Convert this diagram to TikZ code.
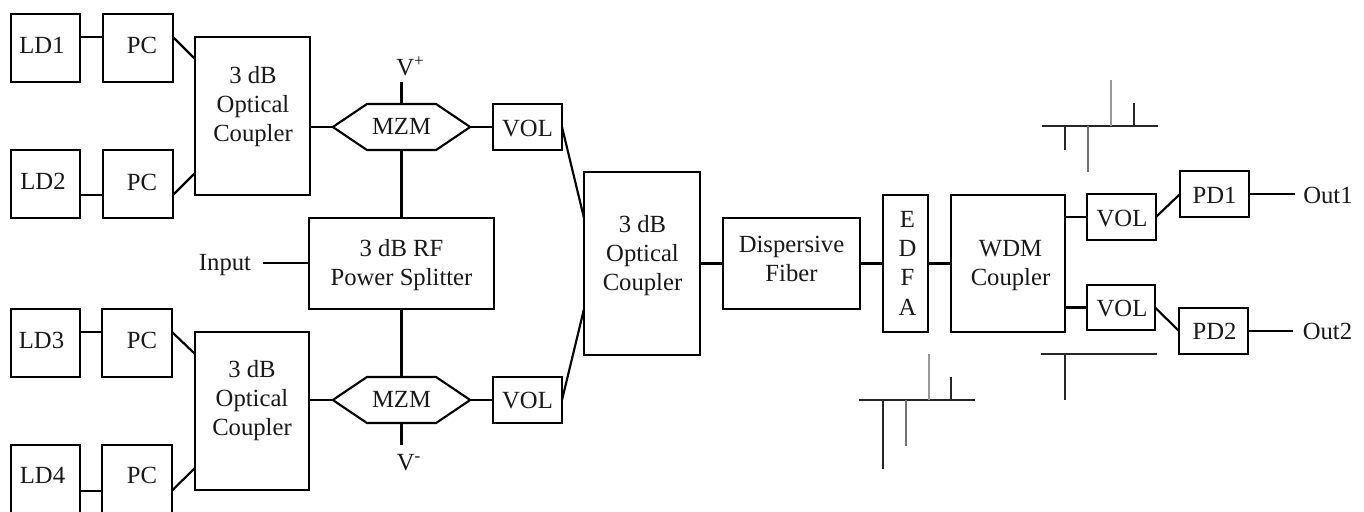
\documentclass[tikz,border=0pt]{standalone}
\usepackage{fontspec}
\setmainfont{Liberation Serif}
\usetikzlibrary{calc,shapes.symbols}
\newdimen\pxu \pxu=0.75pt
% text set with its baseline dy px below and its centre dx px right of the node centre
\newcommand{\tx}[3]{\raisebox{-#2\pxu}[0pt][0pt]{\makebox[0pt]{\kern#1\pxu\kern#1\pxu #3}}}
\newcommand{\stack}[1]{\renewcommand{\arraystretch}{1}\begin{tabular}[t]{@{}c@{}}#1\end{tabular}}
\tikzset{
  every node/.style={font=\fontsize{18.5}{22}\selectfont,text=black!90},
  pbox/.style={draw=black,line width=1.6pt,rectangle,outer sep=0pt,inner sep=0pt,fill=white},
  hexa/.style={draw=black,line width=1.6pt,signal,signal to=east and west,signal pointer angle=68,outer sep=0pt,inner sep=0pt,minimum width=103pt,minimum height=34.5pt,fill=white},
  link/.style={draw=black,line width=1.6pt},
  plain/.style={inner sep=0pt,outer sep=0pt},
  axis/.style={draw=black!85,line width=1.2pt},
  tone1/.style={draw=black!85,line width=1.2pt},
  tone2/.style={draw=black!55,line width=1.2pt},
  tone3/.style={draw=black!40,line width=1.2pt}
}
\newcommand{\pxbox}[6]{\node[pbox,minimum width={(#4-#2)*0.75pt},minimum height={(#5-#3)*0.75pt}] (#1) at ({(#2+#4)/2},{(#3+#5)/2}) {#6};}
\begin{document}
\begin{tikzpicture}[x=0.75pt,y=-0.75pt]
\useasboundingbox (0,0) rectangle (1364,511);
% sources
\pxbox{ld1}{11}{14}{80}{82}{\tx{-3.5}{5}{LD1}}
\pxbox{pc1}{103}{14}{173}{82}{\tx{4}{5}{PC}}
\pxbox{ld2}{11}{150}{80}{218}{\tx{-2.5}{5}{LD2}}
\pxbox{pc2}{103}{150}{173}{218}{\tx{4}{6}{PC}}
\pxbox{ld3}{11}{309}{80}{377}{\tx{-4}{5}{LD3}}
\pxbox{pc3}{102}{309}{172}{377}{\tx{5}{5}{PC}}
\pxbox{ld4}{11}{445}{80}{514}{\tx{-3}{3.5}{LD4}}
\pxbox{pc4}{102}{445}{172}{514}{\tx{5}{4}{PC}}
\pxbox{oc1}{195}{37}{310}{195}{\tx{0.5}{-33}{\stack{3 dB\\Optical\\Coupler}}}
\pxbox{oc2}{195}{332}{309}{490}{\tx{0}{-34}{\stack{3 dB\\Optical\\Coupler}}}
% modulators
\node[hexa] (mzm1) at (401.5,127) {\tx{0}{7}{MZM}};
\node[hexa] (mzm2) at (401.5,400) {\tx{0}{7}{MZM}};
\pxbox{vol1}{493}{104}{562}{150}{\tx{0}{9}{VOL}}
\pxbox{vol2}{493}{377}{562}{423}{\tx{0}{8}{VOL}}
\pxbox{split}{309}{218}{494}{309}{\tx{0}{-7.5}{\stack{3 dB RF\\Power Splitter}}}
\node[plain] (vp) at (410.5,65) {\tx{0}{10}{V\textsuperscript{+}}};
\node[plain] (vm) at (409,460) {\tx{0}{10}{V\textsuperscript{-}}};
\node[plain] (input) at (225,263) {\tx{0}{7}{Input}};
\coordinate (inend) at (263,263);
\coordinate (vpend) at (401.5,82);
\coordinate (vmend) at (401.5,445);
% main chain
\pxbox{oc3}{584}{172}{700}{355}{\tx{0.5}{-31.5}{\stack{3 dB\\Optical\\Coupler}}}
\pxbox{fiber}{723}{218}{860}{309}{\tx{0}{-11.5}{\stack{Dispersive\\Fiber}}}
\pxbox{edfa}{883}{195}{928}{332}{\tx{2}{-36.5}{\stack{E\\D\\F\\A}}}
\pxbox{wdm}{951}{195}{1065}{332}{\tx{2.5}{-7.5}{\stack{WDM\\Coupler}}}
\pxbox{vol3}{1087}{194}{1156}{240}{\tx{0.5}{9}{VOL}}
\pxbox{vol4}{1087}{285}{1155}{330}{\tx{1}{8.5}{VOL}}
\pxbox{pd1}{1180}{171}{1249}{217}{\tx{0}{9}{PD1}}
\pxbox{pd2}{1179}{308}{1248}{354}{\tx{1}{8}{PD2}}
\node[plain] (out1) at (1328,194) {\tx{0}{9}{Out1}};
\node[plain] (out2) at (1327.5,331) {\tx{0}{8}{Out2}};
\coordinate (o1end) at (1295,194);
\coordinate (o2end) at (1293,331);
% connectors
\draw[link] ([shift={(0,-11)}]ld1.east) -- ([shift={(0,-11)}]pc1.west);
\draw[link] ([shift={(0,11)}]ld2.east) -- ([shift={(0,11)}]pc2.west);
\draw[link] ([shift={(0,-11)}]ld3.east) -- ([shift={(0,-11)}]pc3.west);
\draw[link] ([shift={(0,11.5)}]ld4.east) -- ([shift={(0,11.5)}]pc4.west);
\draw[link] ([shift={(0,-11)}]pc1.east) -- ([shift={(0,-57)}]oc1.west);
\draw[link] ([shift={(0,11)}]pc2.east) -- ([shift={(0,57)}]oc1.west);
\draw[link] ([shift={(0,-11)}]pc3.east) -- ([shift={(0,-57)}]oc2.west);
\draw[link] ([shift={(0,11)}]pc4.east) -- ([shift={(0,57)}]oc2.west);
\draw[link] (mzm1.west -| oc1.east) -- (mzm1.west);
\draw[link] (mzm2.west -| oc2.east) -- (mzm2.west);
\draw[link] (mzm1.east) -- (vol1.west);
\draw[link] (mzm2.east) -- (vol2.west);
\draw[link] (vpend) -- (mzm1.north);
\draw[link] (mzm1.south) -- (mzm1.south |- split.north);
\draw[link] (mzm2.north) -- (mzm2.north |- split.south);
\draw[link] (mzm2.south) -- (vmend);
\draw[link] (inend) -- (inend -| split.west);
\draw[link] (vol1.east) -- ([shift={(0,46)}]oc3.north west);
\draw[link] (vol2.east) -- ([shift={(0,-46)}]oc3.south west);
\draw[link] (oc3.east) -- (fiber.west);
\draw[link] (fiber.east) -- (edfa.west);
\draw[link] (edfa.east) -- (wdm.west);
\draw[link] (vol3.west) -- (vol3.west -| wdm.east);
\draw[link] (vol4.west) -- (vol4.west -| wdm.east);
\draw[link] (vol3.east) -- (pd1.west);
\draw[link] (vol4.east) -- (pd2.west);
\draw[link] (pd1.east) -- (o1end);
\draw[link] (pd2.east) -- (o2end);
% spectra
\draw[axis] (1042,126) -- (1158,126);
\draw[tone1] (1065,126) -- (1065,150);
\draw[tone2] (1088,126) -- (1088,172);
\draw[tone3] (1111,126) -- (1111,80);
\draw[tone1] (1134,126) -- (1134,103);
\draw[axis] (859,400) -- (975,400);
\draw[tone1] (883,400) -- (883,469);
\draw[tone2] (906,400) -- (906,446);
\draw[tone3] (929,400) -- (929,354);
\draw[tone1] (951,400) -- (951,377);
\draw[axis] (1041,354) -- (1157,354);
\draw[tone1] (1065,354) -- (1065,400);
\end{tikzpicture}
\end{document}
